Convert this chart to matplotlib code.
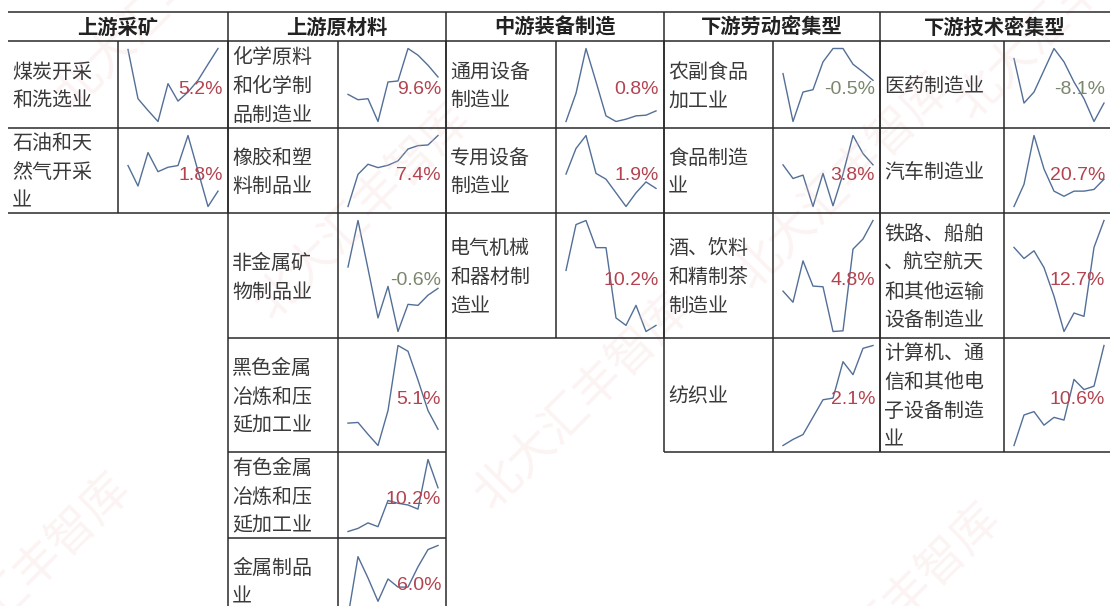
import matplotlib
matplotlib.use('Agg')
import matplotlib.pyplot as plt
from matplotlib import font_manager

plt.rcParams['font.family'] = ['Noto Sans CJK SC', 'DejaVu Sans']

# industry groups (column headers)
groups = ['上游采矿', '上游原材料', '中游装备制造', '下游劳动密集型', '下游技术密集型']

# per-group industries, latest growth (%) and 10-period trend readings
mining_names = ['煤炭开采和洗选业', '石油和天然气开采业']
mining_growth = [5.2, 1.8]
mining_trend = [
    [222, 75, 40, 7, 120, 68, 95, 130, 178, 225],
    [140, 80, 178, 122, 135, 140, 228, 124, 20, 65],
]

material_names = ['化学原料和化学制品制造业', '橡胶和塑料制品业', '非金属矿物制品业',
                  '黑色金属冶炼和压延加工业', '有色金属冶炼和压延加工业', '金属制品业']
material_growth = [9.6, 7.4, -0.6, 5.1, 10.2, 6.0]
material_trend = [
    [93, 77, 80, 12, 130, 133, 230, 210, 180, 145],
    [10, 105, 135, 125, 132, 145, 180, 190, 192, 220],
    [205, 342, 200, 55, 148, 15, 95, 92, 122, 142],
    [78, 80, 45, 12, 115, 307, 290, 205, 115, 60],
    [13, 22, 38, 27, 103, 95, 90, 78, 222, 140],
    [4, 63, 42, 19, 41, 33, 33, 53, 70, 74],
]

equipment_names = ['通用设备制造业', '专用设备制造业', '电气机械和器材制造业']
equipment_growth = [0.8, 1.9, 10.2]
equipment_trend = [
    [10, 95, 230, 130, 27, 10, 17, 27, 29, 42],
    [105, 180, 218, 107, 90, 50, 10, 50, 82, 63],
    [195, 330, 342, 262, 262, 55, 33, 92, 15, 33],
]

labor_names = ['农副食品加工业', '食品制造业', '酒、饮料和精制茶制造业', '纺织业']
labor_growth = [-0.5, 3.8, 4.8, 2.1]
labor_trend = [
    [155, 12, 100, 107, 190, 230, 230, 183, 160, 135],
    [132, 92, 102, 10, 107, 12, 105, 218, 165, 132],
    [135, 102, 225, 150, 148, 15, 17, 260, 290, 345],
    [10, 25, 37, 80, 123, 127, 217, 185, 250, 257],
]

tech_names = ['医药制造业', '汽车制造业', '铁路、船舶、航空航天和其他运输设备制造业',
              '计算机、通信和其他电子设备制造业']
tech_growth = [-8.1, 20.7, 12.7, 10.6]
tech_trend = [
    [200, 67, 100, 165, 230, 190, 130, 80, 12, 67],
    [10, 75, 218, 120, 55, 40, 55, 55, 60, 90],
    [265, 232, 255, 205, 120, 15, 70, 60, 265, 345],
    [10, 100, 110, 70, 93, 85, 205, 175, 185, 305],
]

group_data = [
    (mining_names, mining_growth, mining_trend),
    (material_names, material_growth, material_trend),
    (equipment_names, equipment_growth, equipment_trend),
    (labor_names, labor_growth, labor_trend),
    (tech_names, tech_growth, tech_trend),
]

# layout in pixels
W, H = 1110, 606
header = (12, 41)
row_edges = [41, 128, 213, 338, 452, 538, 623]
col_left = [8, 228, 446, 664, 880]
col_mid = [118, 338, 556, 773, 1004]
col_right = [228, 446, 664, 880, 1110]
wrap = [4, 4, 4, 4, 5]

line_color = '#536f97'
pos_color = '#b2434f'
neg_color = '#7a866c'
edge = '#2a2a2a'

names_ttf = {f.name for f in font_manager.fontManager.ttflist}
pct_font = 'Liberation Sans Narrow' if 'Liberation Sans Narrow' in names_ttf else 'Liberation Sans'
pct_size = 16 if pct_font == 'Liberation Sans Narrow' else 14

fig = plt.figure(figsize=(W / 100, H / 100), dpi=100)
fig.patch.set_facecolor('white')

# sparklines
for g, (names, growth, trend) in enumerate(group_data):
    for r, series in enumerate(trend):
        top, bot = row_edges[r], row_edges[r + 1]
        x0, x1 = col_mid[g] + 10, col_mid[g] + 100
        y0, y1 = top + 7.5, bot - 6.5
        sp = fig.add_axes([x0 / W, 1 - y1 / H, (x1 - x0) / W, (y1 - y0) / H])
        sp.plot(range(len(series)), series, color=line_color, lw=1.0, clip_on=False)
        sp.set_xlim(0, len(series) - 1)
        sp.set_ylim(min(series), max(series))
        sp.axis('off')

ax = fig.add_axes([0, 0, 1, 1], zorder=5)
ax.patch.set_alpha(0)
ax.set_xlim(0, W)
ax.set_ylim(H, 0)
ax.axis('off')

# faint watermark
for wx, wy in [(-60, 700), (500, 520), (810, 730), (280, 330), (80, 120), (980, 130), (760, 300)]:
    ax.text(wx, wy, '北大汇丰智库', fontsize=34, color='#f3c4c4', alpha=0.2,
            rotation=45, rotation_mode='anchor', ha='left', va='bottom', zorder=0)

lw = 1.1
# header row
ax.hlines([header[0], header[1]], col_left[0], W, color=edge, lw=lw)
for g, title in enumerate(groups):
    ax.text((col_left[g] + col_right[g]) / 2, (header[0] + header[1]) / 2 + 1, title,
            ha='center', va='center', fontsize=14.6, fontweight='bold', color='#222222')
    if g > 0:
        ax.vlines(col_left[g], header[0], header[1], color=edge, lw=lw)

for g, (names, growth, trend) in enumerate(group_data):
    n = len(names)
    bottom = min(row_edges[n], H + 5)
    ax.hlines(row_edges[1:n + 1], col_left[g], col_right[g], color=edge, lw=lw)
    ax.vlines(col_mid[g], row_edges[0], bottom, color=edge, lw=lw)
    if g > 0:
        ax.vlines(col_left[g], row_edges[0], bottom, color=edge, lw=lw)
    if g < len(groups) - 1:
        ax.vlines(col_right[g], row_edges[0], bottom, color=edge, lw=lw)

    for r, (name, val) in enumerate(zip(names, growth)):
        top, bot = row_edges[r], row_edges[r + 1]
        yc = (top + bot) / 2
        lines = [name[i:i + wrap[g]] for i in range(0, len(name), wrap[g])]
        for i, txt in enumerate(lines):
            ax.text(col_left[g] + 4, yc + 2 + (i - (len(lines) - 1) / 2) * 29, txt,
                    ha='left', va='center', fontsize=14.4, color='#3a3a3a')
        ax.text(col_right[g] - 5, yc + 5, f'{val:.1f}%', ha='right', va='center',
                fontsize=pct_size, family=pct_font,
                color=neg_color if val < 0 else pos_color)

fig.savefig('out.png', dpi=100, facecolor='white')
